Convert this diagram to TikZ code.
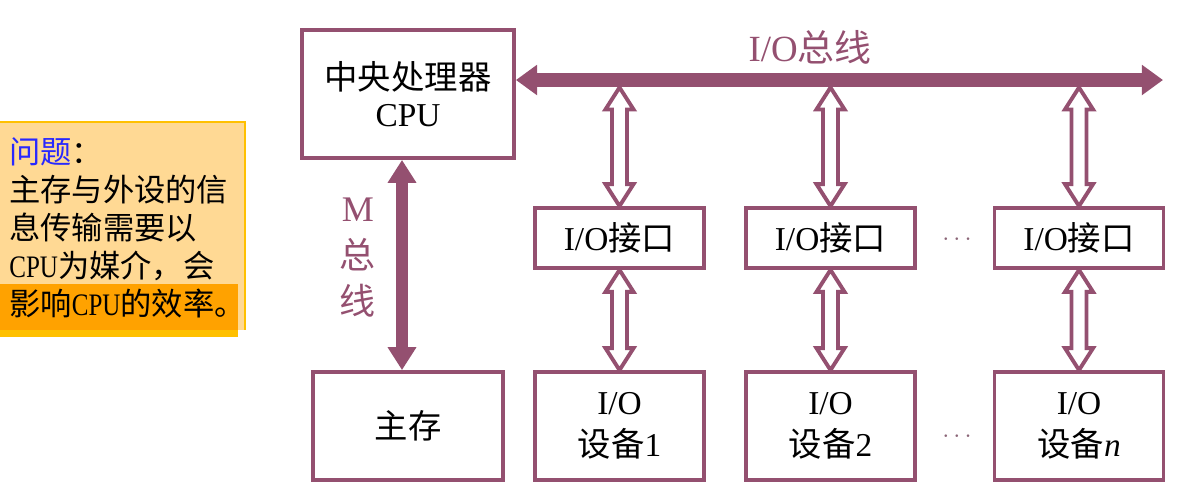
\documentclass[tikz,border=0pt]{standalone}
\usepackage{fontspec}
\setmainfont{Liberation Serif}
\newfontfamily\cjk{Noto Sans CJK SC}
\newcommand\zh[1]{{\cjk #1}}
\newcommand\narrowcpu{\scalebox{0.8}[1]{CPU}}
\usetikzlibrary{arrows.meta,calc}
\definecolor{BusPlum}{RGB}{148,80,112}
\definecolor{NotePale}{RGB}{255,217,148}
\definecolor{NoteGold}{RGB}{255,192,0}
\definecolor{NoteOrange}{RGB}{255,162,0}
\definecolor{NoteBlue}{RGB}{40,40,255}
\newcommand\hollowlink[2]{%
  \draw[hollow] let \p1=(#1), \p2=(#2) in
    (\x1,\y1) -- (\x1+8pt,\y1-12.5pt) -- (\x1+4.25pt,\y1-12.5pt)
    -- (\x1+4.25pt,\y2+12.5pt) -- (\x1+8pt,\y2+12.5pt) -- (\x1,\y2)
    -- (\x1-8pt,\y2+12.5pt) -- (\x1-4.25pt,\y2+12.5pt)
    -- (\x1-4.25pt,\y1-12.5pt) -- (\x1-8pt,\y1-12.5pt) -- cycle;}

\begin{document}
\begin{tikzpicture}[
      x=0.02cm,y=-0.02cm,
      unit/.style={draw=BusPlum,line width=2.2pt,fill=white,align=center,
        inner sep=0pt,font=\fontsize{19}{21}\selectfont},
      port/.style={unit,minimum width=3.38cm,minimum height=1.2cm},
      device/.style={unit,minimum width=3.38cm,minimum height=2.16cm,
        font=\fontsize{19}{24}\selectfont},
      iobus/.style={line width=8.5pt,draw=BusPlum,
        {Triangle[length=12pt,width=16.5pt]}-{Triangle[length=12pt,width=16.5pt]}},
      mbus/.style={line width=6.3pt,draw=BusPlum,
        {Triangle[length=13pt,width=15.5pt]}-{Triangle[length=13pt,width=15.5pt]}},
      hollow/.style={draw=BusPlum,line width=2.2pt,fill=white},
      buslabel/.style={text=BusPlum,inner sep=0pt},
      dots/.style={text=BusPlum!55!gray,inner sep=0pt,font=\Large}
    ]
    \path[use as bounding box] (0,0) rectangle (1189,481);

    % note box on the left
    \fill[NotePale] (0,122) rectangle (245,330);
    \draw[NoteGold,line width=0.8pt] (0,122) -- (245,122) -- (245,330);
    \fill[NoteOrange] (0,284) rectangle (238,330);
    \fill[NoteGold] (0,330) rectangle (238,337);
    \node[anchor=north west,inner sep=0pt,align=left,
      font=\fontsize{17.8}{21.6}\selectfont] (note) at (9,137)
      {\zh{\textcolor{NoteBlue}{问题}：}\\
       \zh{主存与外设的信}\\
       \zh{息传输需要以}\\
       \narrowcpu\zh{为媒介，会}\\
       \zh{影响}\narrowcpu\zh{的效率。}};

    \node[unit,minimum width=4.24cm,minimum height=2.56cm] (cpu) at (408,94)
      {\zh{中央处理器}\\CPU};
    \node[unit,minimum width=3.8cm,minimum height=2.16cm] (mem) at (408,426)
      {\zh{主存}};

    \node[port] (port1) at (619.5,238) {I/O\zh{接口}};
    \node[port] (port2) at (830.5,238) {I/O\zh{接口}};
    \node[port] (port3) at (1079,238) {I/O\zh{接口}};
    \node[device] (dev1) at (619.5,426) {I/O\\\zh{设备}1};
    \node[device] (dev2) at (830.5,426) {I/O\\\zh{设备}2};
    \node[device] (dev3) at (1079,426) {I/O\\\zh{设备}\textit{n}};

    \node[dots] (gap1) at (957,240) {$\cdots$};
    \node[dots] (gap2) at (957,437) {$\cdots$};

    % buses
    \coordinate (busend) at (1163,80);
    \draw[iobus] (cpu.east |- busend) -- (busend);
    \node[buslabel,font=\fontsize{21}{23}\selectfont] (iolabel) at (810,47)
      {I/O\zh{总线}};
    \draw[mbus] ([xshift=-0.12cm]cpu.south) -- ([xshift=-0.12cm]mem.north);
    \node[buslabel,align=center,font=\fontsize{20.5}{26.5}\selectfont] (mlabel)
      at (358,258) {M\\\zh{总}\\\zh{线}};

    \foreach \i in {1,2,3}{
      \hollowlink{$(port\i.north |- busend)+(0,-4.25pt)$}{port\i.north}
      \hollowlink{port\i.south}{dev\i.north}
    }
  \end{tikzpicture}
\end{document}
